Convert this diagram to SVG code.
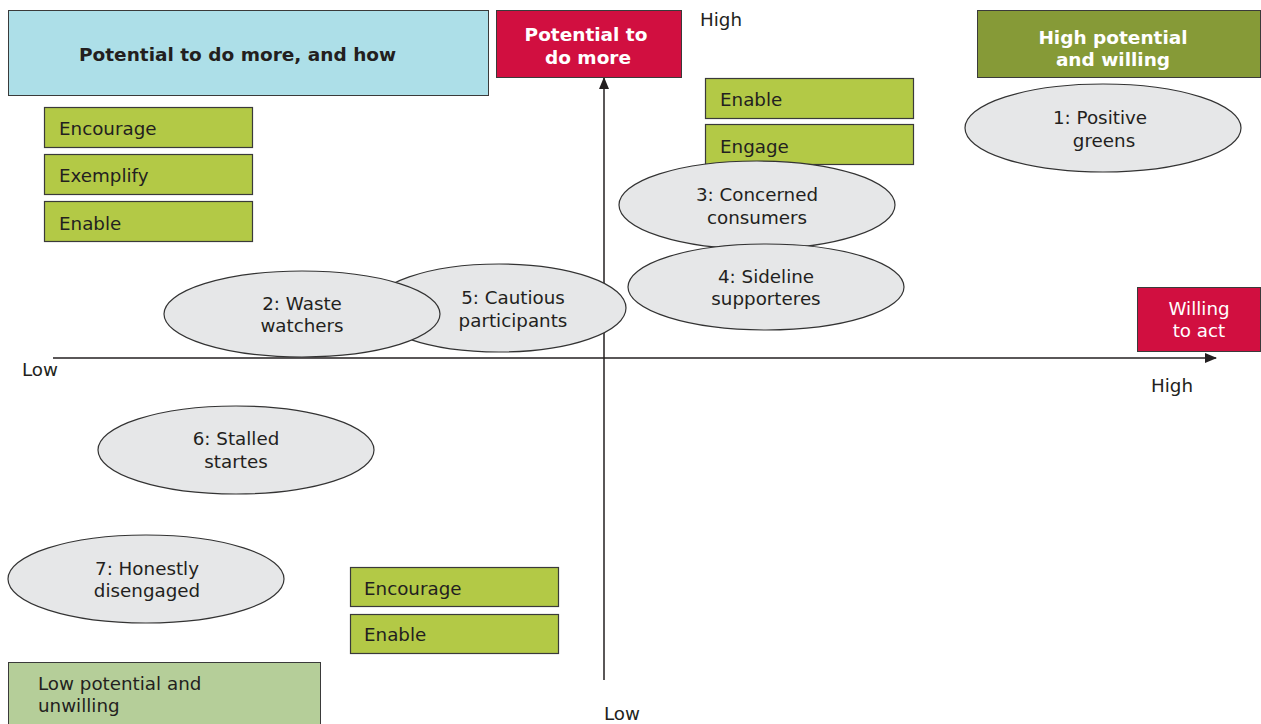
<svg xmlns="http://www.w3.org/2000/svg" width="1261" height="724" viewBox="0 0 1261 724">
<style>
text{font-family:"DejaVu Sans","Verdana",sans-serif;font-size:18.3px;fill:#231f20}
.b{font-weight:bold;font-size:18.5px}
.w{fill:#ffffff}
.c{text-anchor:middle}
.act{fill:#b3c946;stroke:#3a3a3a;stroke-width:1.2}
.ell{fill:#e6e7e8;stroke:#333333;stroke-width:1.2}
.red{fill:#d10f40;stroke:#3a3a3a;stroke-width:1}
.ax{stroke:#231f20;stroke-width:1.5;fill:none}
</style>
<defs>
<marker id="arrv" markerWidth="12" markerHeight="10" refX="11" refY="5" orient="auto" markerUnits="userSpaceOnUse">
<path d="M0,0 L12,5 L0,10 z" fill="#231f20"/>
</marker>
</defs>

<g id="connectors">
<line class="ax" x1="53" y1="358" x2="1216" y2="358" marker-end="url(#arrv)"/>
<line class="ax" x1="604" y1="680" x2="604" y2="78" marker-end="url(#arrv)"/>
</g>

<g id="title-box">
<rect x="8.5" y="10.5" width="480" height="85" fill="#addfe8" stroke="#3a3a3a" stroke-width="1"/>
<text class="b" x="79" y="61">Potential to do more, and how</text>
</g>
<g id="left-encourage"><rect class="act" x="44.5" y="107.5" width="208" height="40"/><text x="59" y="135">Encourage</text></g>
<g id="left-exemplify"><rect class="act" x="44.5" y="154.5" width="208" height="40"/><text x="59" y="182">Exemplify</text></g>
<g id="left-enable"><rect class="act" x="44.5" y="201.5" width="208" height="40"/><text x="59" y="230">Enable</text></g>

<g id="potential-box">
<rect class="red" x="496.5" y="10.5" width="185" height="67"/>
<text class="b w c" x="586" y="41">Potential to</text>
<text class="b w c" x="588" y="64">do more</text>
</g>
<g id="high-y"><text x="700" y="26">High</text></g>

<g id="right-enable"><rect class="act" x="705.5" y="78.5" width="208" height="40"/><text x="720" y="106">Enable</text></g>
<g id="right-engage"><rect class="act" x="705.5" y="124.5" width="208" height="40"/><text x="720" y="153">Engage</text></g>

<g id="high-willing">
<rect x="977.5" y="10.5" width="283" height="67" fill="#869a37" stroke="#3a3a3a" stroke-width="1"/>
<text class="b w c" x="1113" y="44">High potential</text>
<text class="b w c" x="1113" y="66">and willing</text>
</g>

<g id="seg1"><ellipse class="ell" cx="1103" cy="128" rx="138" ry="44"/><text class="c" x="1100" y="124">1: Positive</text><text class="c" x="1104" y="147">greens</text></g>
<g id="seg3"><ellipse class="ell" cx="757" cy="205" rx="138" ry="44"/><text class="c" x="757" y="201">3: Concerned</text><text class="c" x="757" y="224">consumers</text></g>
<g id="seg4"><ellipse class="ell" cx="766" cy="287" rx="138" ry="43"/><text class="c" x="766" y="283">4: Sideline</text><text class="c" x="766" y="305">supporteres</text></g>
<g id="seg5"><ellipse class="ell" cx="499" cy="308" rx="127" ry="44"/><text class="c" x="513" y="304">5: Cautious</text><text class="c" x="513" y="327">participants</text></g>
<g id="seg2"><ellipse class="ell" cx="302" cy="314" rx="138" ry="43"/><text class="c" x="302" y="310">2: Waste</text><text class="c" x="302" y="332">watchers</text></g>

<g id="willing-box">
<rect class="red" x="1137.5" y="287.5" width="123" height="64"/>
<text class="w c" x="1199" y="315">Willing</text>
<text class="w c" x="1199" y="337">to act</text>
</g>

<g id="low-x"><text x="22" y="376">Low</text></g>
<g id="high-x"><text x="1151" y="392">High</text></g>
<g id="low-y"><text x="604" y="720">Low</text></g>

<g id="seg6"><ellipse class="ell" cx="236" cy="450" rx="138" ry="44"/><text class="c" x="236" y="445">6: Stalled</text><text class="c" x="236" y="468">startes</text></g>
<g id="seg7"><ellipse class="ell" cx="146" cy="579" rx="138" ry="44"/><text class="c" x="147" y="575">7: Honestly</text><text class="c" x="147" y="597">disengaged</text></g>

<g id="bottom-encourage"><rect class="act" x="350.5" y="567.5" width="208" height="39"/><text x="364" y="595">Encourage</text></g>
<g id="bottom-enable"><rect class="act" x="350.5" y="614.5" width="208" height="39"/><text x="364" y="641">Enable</text></g>

<g id="low-unwilling">
<rect x="8.5" y="662.5" width="312" height="70" fill="#b5ce99" stroke="#3a3a3a" stroke-width="1"/>
<text x="38" y="690">Low potential and</text>
<text x="38" y="712">unwilling</text>
</g>
</svg>
